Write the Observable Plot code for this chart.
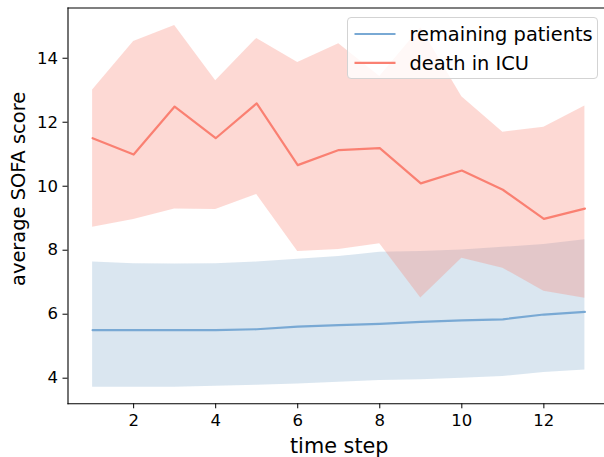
<!DOCTYPE html>
<html>
<head>
<meta charset="utf-8">
<script src="https://cdn.jsdelivr.net/npm/d3@7"></script>
<script src="https://cdn.jsdelivr.net/npm/@observablehq/plot@0.6"></script>
<style>
  html, body { margin: 0; padding: 0; background: #fff; }
  #wrap { position: relative; width: 604px; height: 457px; overflow: hidden; font-family: "DejaVu Sans", sans-serif; }
  #legend { position: absolute; left: 346.5px; top: 17px; width: 251px; height: 62px; box-sizing: border-box;
            border: 1px solid #d3d3d3; border-radius: 4px; background: rgba(255,255,255,0.8); }
  #legend svg { position: absolute; left: 0; top: 0; }
</style>
</head>
<body>
<div id="wrap"></div>
<script>
const steps = [1, 2, 3, 4, 5, 6, 7, 8, 9, 10, 11, 12, 13];
const remainingMean = [5.5, 5.5, 5.5, 5.5, 5.53, 5.61, 5.66, 5.70, 5.76, 5.81, 5.84, 5.99, 6.07];
const remainingLow  = [3.72, 3.72, 3.72, 3.75, 3.78, 3.82, 3.87, 3.93, 3.95, 4.00, 4.05, 4.18, 4.26];
const remainingHigh = [7.63, 7.58, 7.57, 7.58, 7.63, 7.72, 7.80, 7.94, 7.96, 8.01, 8.09, 8.18, 8.33];
const deathMean = [11.5, 10.99, 12.49, 11.5, 12.59, 10.66, 11.13, 11.19, 10.09, 10.49, 9.89, 8.98, 9.30];
const deathLow  = [8.72, 8.96, 9.29, 9.27, 9.74, 7.96, 8.02, 8.20, 6.51, 7.75, 7.44, 6.72, 6.50];
const deathHigh = [13.01, 14.52, 15.02, 13.30, 14.62, 13.87, 14.45, 13.43, 14.95, 12.80, 11.69, 11.84, 12.51];
const xTicks = [2, 4, 6, 8, 10, 12];
const yTicks = [4, 6, 8, 10, 12, 14];
const seriesNames = ["remaining patients", "death in ICU"];
const xLabel = "time step";
const yLabel = "average SOFA score";

const rows = steps.map((t, i) => ({
  t,
  remMean: remainingMean[i], remLow: remainingLow[i], remHigh: remainingHigh[i],
  dMean: deathMean[i], dLow: deathLow[i], dHigh: deathHigh[i]
}));

const blueLine = "#79a9d4";
const redLine = "#fa8072";
const font = "DejaVu Sans, sans-serif";

const chart = Plot.plot({
  width: 604,
  height: 457,
  marginLeft: 67.5,
  marginRight: 0,
  marginTop: 7.5,
  marginBottom: 53.7,
  style: { fontFamily: font, color: "#000", background: "#fff", overflow: "visible" },
  x: { domain: [0.4, 13.478] },
  y: { domain: [3.2, 15.57] },
  marks: [
    Plot.areaY(rows, { x: "t", y1: "remLow", y2: "remHigh", fill: "steelblue", fillOpacity: 0.2 }),
    Plot.areaY(rows, { x: "t", y1: "dLow", y2: "dHigh", fill: "salmon", fillOpacity: 0.3 }),
    Plot.lineY(rows, { x: "t", y: "remMean", stroke: blueLine, strokeWidth: 2.2 }),
    Plot.lineY(rows, { x: "t", y: "dMean", stroke: redLine, strokeWidth: 2.2 }),
    Plot.axisX({ ticks: xTicks, tickSize: 5, tickPadding: 5, fontSize: 16.5, label: null, stroke: "#000", strokeOpacity: 1 }),
    Plot.axisY({ ticks: yTicks, tickSize: 5, tickPadding: 5, fontSize: 16.5, label: null, stroke: "#000", strokeOpacity: 1 }),
    Plot.frame({ anchor: "left", stroke: "#000", strokeWidth: 1.1 }),
    Plot.frame({ anchor: "top", stroke: "#000", strokeWidth: 1.1 }),
    Plot.frame({ anchor: "bottom", stroke: "#000", strokeWidth: 1.1 }),
    Plot.text([xLabel], { frameAnchor: "bottom", textAnchor: "middle", dx: 3, dy: 43, fontSize: 20.8, lineAnchor: "middle", fill: "#000" }),
    Plot.text([yLabel], { frameAnchor: "left", textAnchor: "middle", dx: -49.5, dy: -17, rotate: -90, fontSize: 19.4, lineAnchor: "middle", fill: "#000" })
  ]
});
document.getElementById("wrap").appendChild(chart);

// legend (semi-transparent box like matplotlib)
const legend = document.createElement("div");
legend.id = "legend";
const colors = [blueLine, redLine];
let svg = `<svg width="251" height="62" xmlns="http://www.w3.org/2000/svg">`;
seriesNames.forEach((name, i) => {
  const cy = 16 + i * 28.8;
  svg += `<line x1="6.5" x2="47.5" y1="${cy}" y2="${cy}" stroke="${colors[i]}" stroke-width="2.2"/>`;
  svg += `<text x="61.5" y="${cy + 7}" font-family="${font}" font-size="19.4" fill="#000">${name}</text>`;
});
svg += `</svg>`;
legend.innerHTML = svg;
document.getElementById("wrap").appendChild(legend);
</script>
</body>
</html>
